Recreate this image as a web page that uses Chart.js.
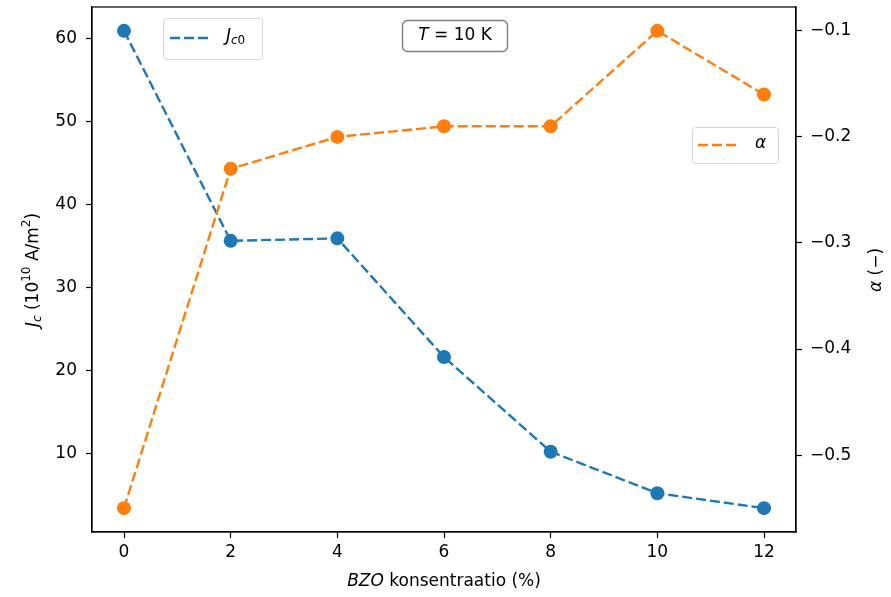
<!DOCTYPE html>
<html>
<head>
<meta charset="utf-8">
<script src="https://cdn.jsdelivr.net/npm/chart.js@4.4.0/dist/chart.umd.min.js"></script>
<style>
  html, body { margin: 0; padding: 0; background: #fff; }
  #wrap { width: 891px; height: 597px; }
</style>
</head>
<body>
<div id="wrap"><canvas id="c" width="891" height="597"></canvas></div>
<script>
// data
const bzo = [0, 2, 4, 6, 8, 10, 12];
const jc0 = [60.9, 35.6, 35.9, 21.6, 10.2, 5.2, 3.4];
const alpha = [-0.55, -0.23, -0.20, -0.19, -0.19, -0.10, -0.16];
const xTicks = [0, 2, 4, 6, 8, 10, 12];
const jcTicks = [10, 20, 30, 40, 50, 60];
const alphaTicks = [-0.5, -0.4, -0.3, -0.2, -0.1];

const BLUE = '#1f77b4', ORANGE = '#ff7f0e';
const FONT = '"DejaVu Sans", sans-serif';
const FS = 17, SUB = 12;

// draw runs of text: [text, size, italic, dy]
function drawRuns(ctx, runs, x, y, align) {
  let total = 0;
  const widths = runs.map(r => {
    ctx.font = (r[2] ? 'italic ' : '') + r[1] + 'px ' + FONT;
    const w = ctx.measureText(r[0]).width;
    total += w;
    return w;
  });
  let cx = align === 'center' ? x - total / 2 : x;
  ctx.textBaseline = 'middle';
  ctx.textAlign = 'left';
  runs.forEach((r, i) => {
    ctx.font = (r[2] ? 'italic ' : '') + r[1] + 'px ' + FONT;
    ctx.fillText(r[0], cx, y + (r[3] || 0));
    cx += widths[i];
  });
}

function legendBox(ctx, x, y, w, h) {
  ctx.save();
  ctx.beginPath();
  ctx.roundRect(x + 0.5, y + 0.5, w, h, 3);
  ctx.fillStyle = 'rgba(255,255,255,0.8)';
  ctx.fill();
  ctx.strokeStyle = '#d6d6d6';
  ctx.lineWidth = 1;
  ctx.stroke();
  ctx.restore();
}

const decor = {
  id: 'decor',
  afterDatasetsDraw(chart) {
    const { ctx, chartArea: a } = chart;
    ctx.save();
    // frame
    ctx.strokeStyle = '#000';
    ctx.lineWidth = 1.2;
    ctx.strokeRect(a.left, a.top, a.right - a.left, a.bottom - a.top);

    ctx.fillStyle = '#000';
    // x title
    drawRuns(ctx, [['BZO', FS, true], [' konsentraatio (%)', FS, false]], (a.left + a.right) / 2, 582, 'center');

    // left title
    ctx.save();
    ctx.translate(34, 270);
    ctx.rotate(-Math.PI / 2);
    drawRuns(ctx, [['J', FS, true], ['c', SUB, true, 4], [' (10', FS, false], ['10', SUB, false, -7],
      [' A/m', FS, false], ['2', SUB, false, -7], [')', FS, false]], 0, 0, 'center');
    ctx.restore();

    // right title
    ctx.save();
    ctx.translate(877, 270);
    ctx.rotate(-Math.PI / 2);
    drawRuns(ctx, [['\u03b1', FS, true], [' (\u2212)', FS, false]], 0, 0, 'center');
    ctx.restore();

    // legend Jc0
    legendBox(ctx, 163, 18, 99, 41);
    ctx.strokeStyle = BLUE;
    ctx.lineWidth = 2.4;
    ctx.setLineDash([10, 4]);
    ctx.beginPath(); ctx.moveTo(170, 38); ctx.lineTo(212, 38); ctx.stroke();
    ctx.setLineDash([]);
    ctx.fillStyle = '#000';
    drawRuns(ctx, [['J', FS, true], ['c', SUB, true, 4], ['0', SUB, false, 4]], 226, 37, 'left');

    // legend alpha
    legendBox(ctx, 692, 127, 86, 36);
    ctx.strokeStyle = ORANGE;
    ctx.lineWidth = 2.4;
    ctx.setLineDash([10, 4]);
    ctx.beginPath(); ctx.moveTo(698, 145); ctx.lineTo(740, 145); ctx.stroke();
    ctx.setLineDash([]);
    drawRuns(ctx, [['\u03b1', FS, true]], 755, 144, 'left');

    // T = 10 K box
    ctx.beginPath();
    ctx.roundRect(402.5, 20.5, 105, 31, 5);
    ctx.fillStyle = '#fff';
    ctx.fill();
    ctx.strokeStyle = '#808080';
    ctx.lineWidth = 1.4;
    ctx.stroke();
    ctx.fillStyle = '#000';
    drawRuns(ctx, [['T', FS, true], [' = 10 K', FS, false]], 455, 36, 'center');
    ctx.restore();
  }
};

const fmt = v => String(v).replace('-', '\u2212');
const noPad = s => { s.paddingTop = 0; s.paddingBottom = 0; };

new Chart(document.getElementById('c'), {
  type: 'line',
  data: {
    datasets: [
      {
        label: 'Jc0', yAxisID: 'y', order: 2,
        data: bzo.map((x, i) => ({ x, y: jc0[i] })),
        borderColor: BLUE, backgroundColor: BLUE,
        borderWidth: 2.4, borderDash: [10, 4],
        pointRadius: 7, pointBorderWidth: 0, pointBackgroundColor: BLUE
      },
      {
        label: 'alpha', yAxisID: 'y2', order: 1,
        data: bzo.map((x, i) => ({ x, y: alpha[i] })),
        borderColor: ORANGE, backgroundColor: ORANGE,
        borderWidth: 2.4, borderDash: [10, 4],
        pointRadius: 7, pointBorderWidth: 0, pointBackgroundColor: ORANGE
      }
    ]
  },
  options: {
    responsive: false,
    animation: false,
    layout: { padding: { top: 7, left: 0, right: 0, bottom: 0 } },
    plugins: { legend: { display: false }, tooltip: { enabled: false } },
    scales: {
      x: {
        type: 'linear', min: -0.6, max: 12.6,
        afterBuildTicks: s => { s.ticks = xTicks.map(v => ({ value: v })); },
        afterFit: s => { s.height = 65; s.paddingLeft = 0; s.paddingRight = 0; },
        grid: { drawOnChartArea: false, tickLength: 6, tickColor: '#000', tickWidth: 1.2 },
        border: { color: '#000', width: 1.2 },
        ticks: { color: '#000', font: { family: FONT, size: FS }, padding: 4, maxRotation: 0 }
      },
      y: {
        position: 'left', min: 0.525, max: 63.775,
        afterBuildTicks: s => { s.ticks = jcTicks.map(v => ({ value: v })); },
        afterFit: s => { s.width = 92; noPad(s); },
        grid: { drawOnChartArea: false, tickLength: 6, tickColor: '#000', tickWidth: 1.2 },
        border: { color: '#000', width: 1.2 },
        ticks: { color: '#000', font: { family: FONT, size: FS }, padding: 9 }
      },
      y2: {
        position: 'right', min: -0.5725, max: -0.0775,
        afterBuildTicks: s => { s.ticks = alphaTicks.map(v => ({ value: v })); },
        afterFit: s => { s.width = 95; noPad(s); },
        grid: { drawOnChartArea: false, tickLength: 6, tickColor: '#000', tickWidth: 1.2 },
        border: { color: '#000', width: 1.2 },
        ticks: { color: '#000', font: { family: FONT, size: FS }, padding: 8, callback: v => fmt(v) }
      }
    }
  },
  plugins: [decor]
});
</script>
</body>
</html>
